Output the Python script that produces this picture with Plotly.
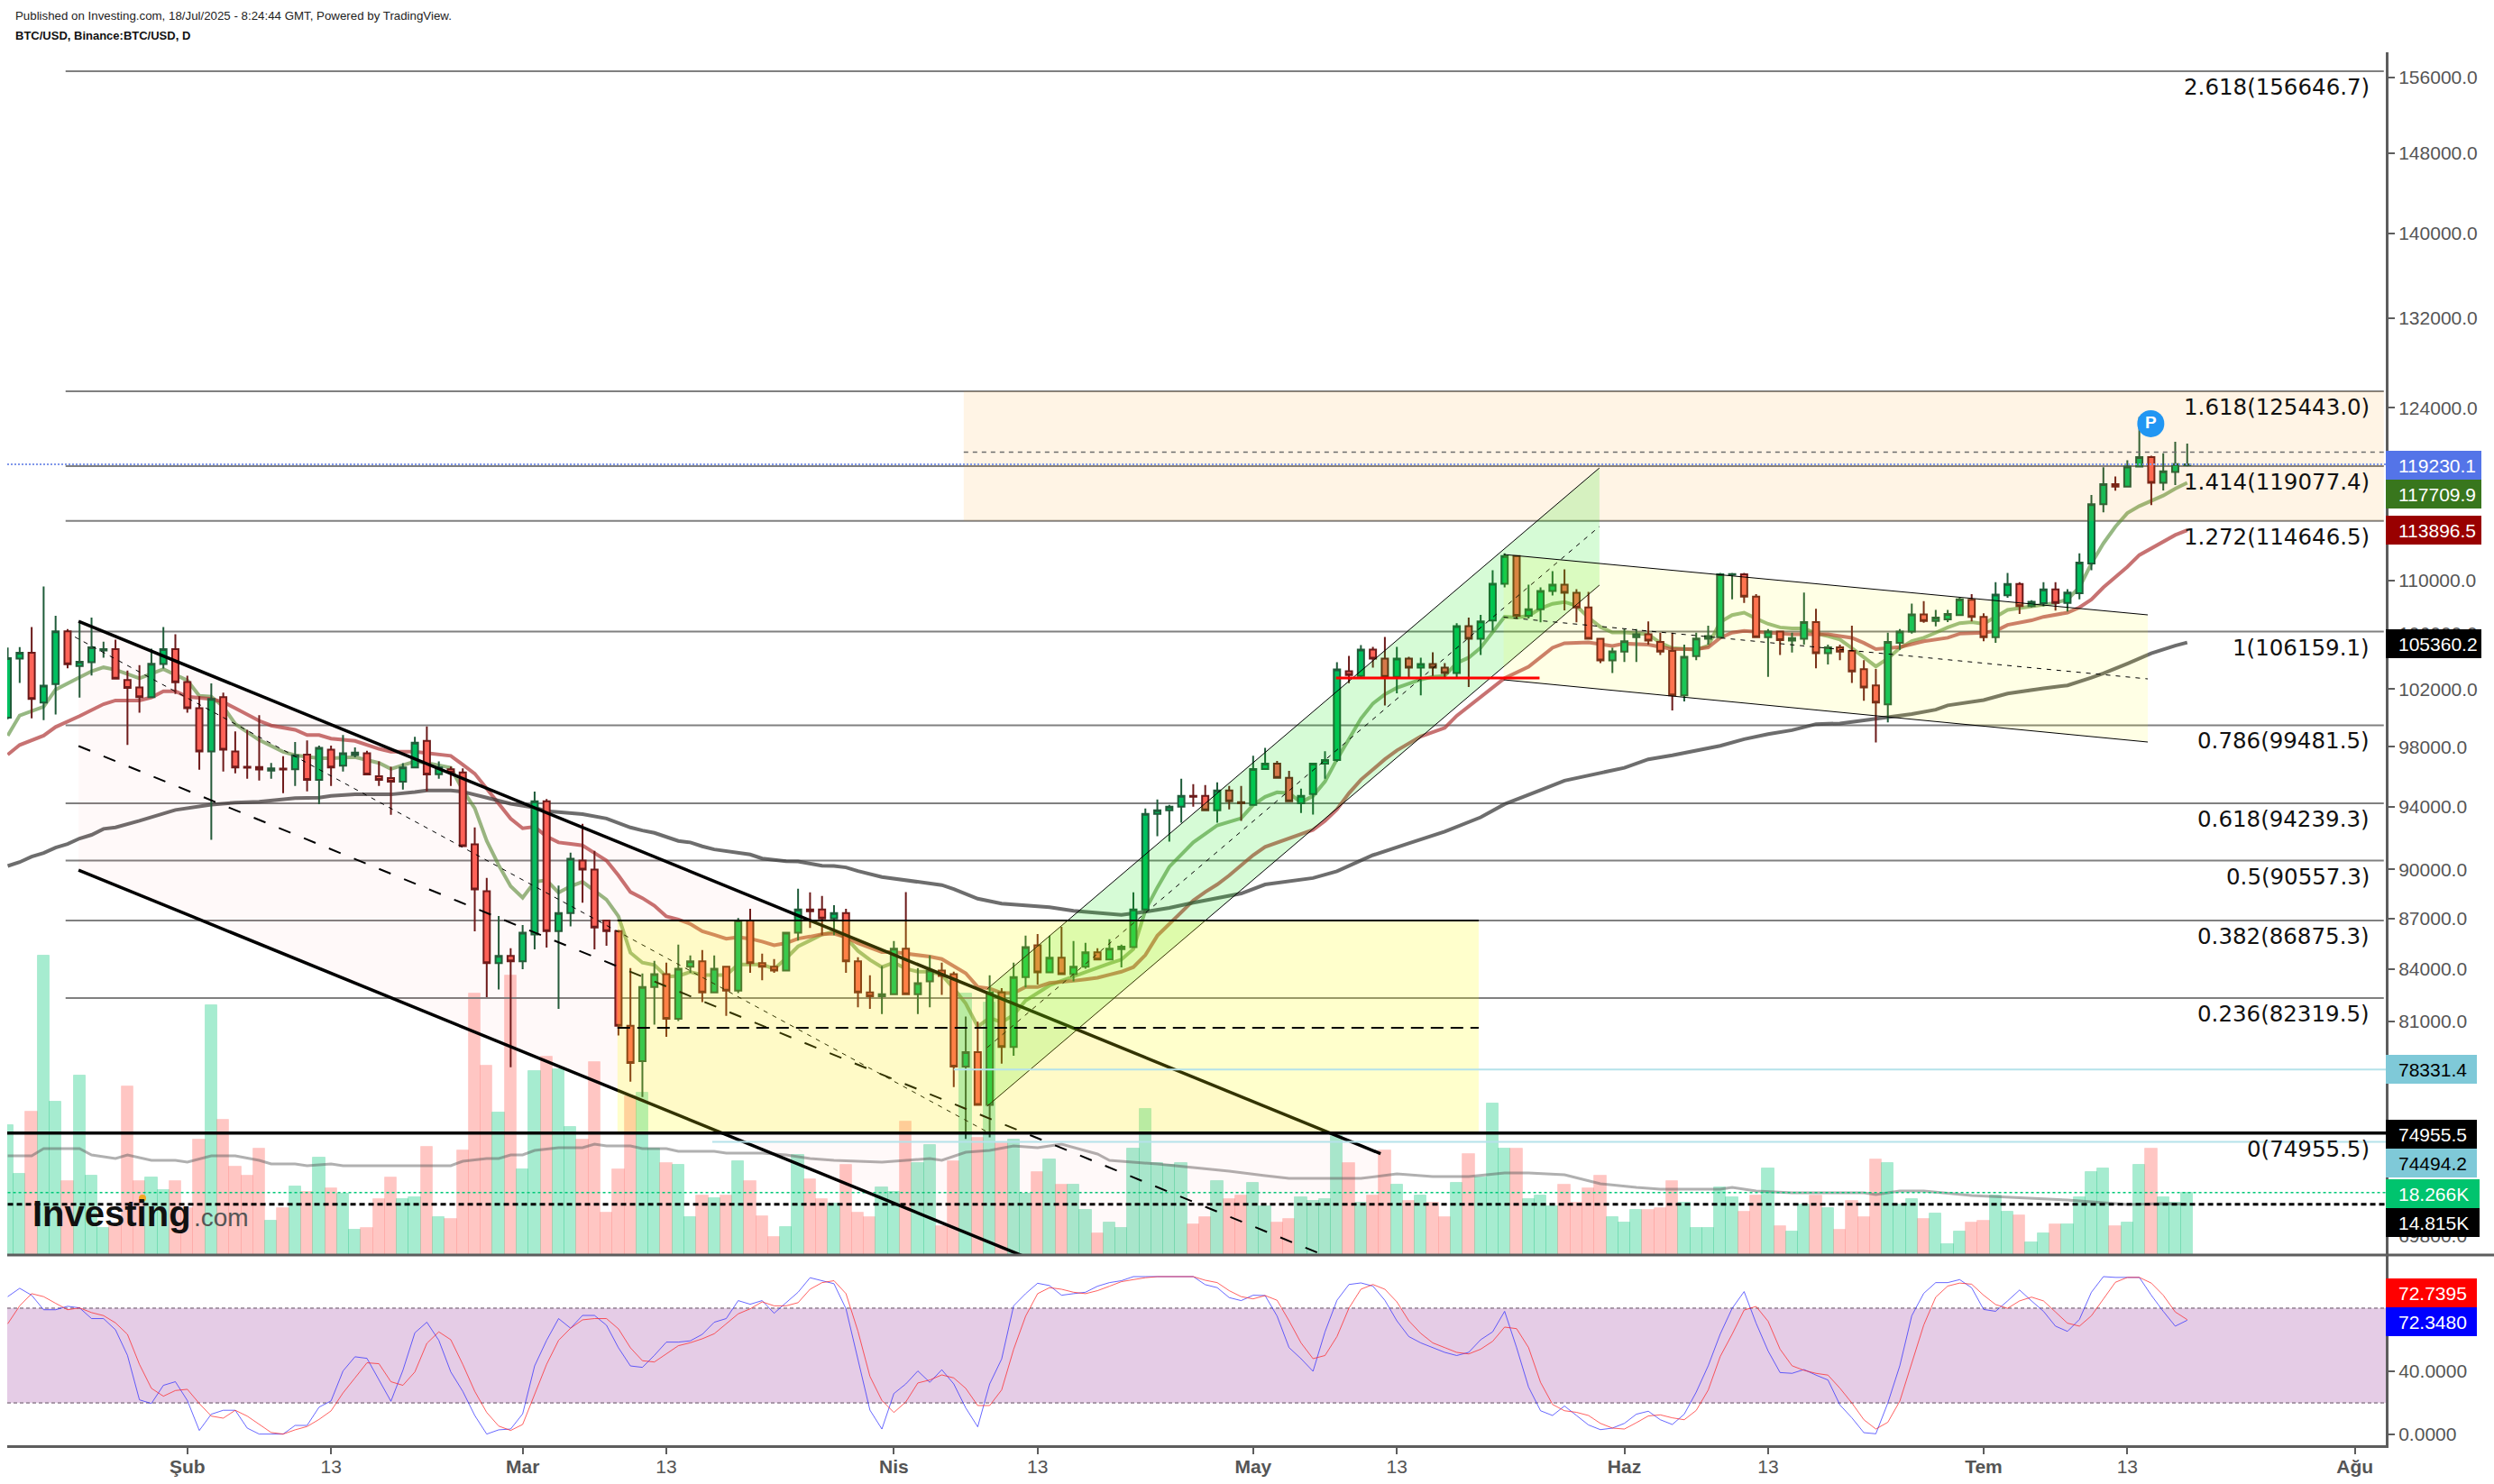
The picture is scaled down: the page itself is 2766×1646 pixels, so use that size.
import math
import pandas as pd
import plotly.graph_objects as go

W = 2766
H = 1646

# 日足 (1/17 - 7/18)
opens = [
    100006,104195,104610,101053,102362,106180,103650,103933,104784,104872,
    102646,102122,101446,103802,104872,102515,100660,97687,101446,97687,
    96650,96630,96391,96530,96491,97468,95773,97807,96730,97448,
    97568,96012,95893,95654,96610,98405,96152,96491,96272,91592,
    88660,84332,84756,84438,86027,94359,86239,87321,90557,89999,
    86875,86239,80749,78786,82954,83696,81141,84120,84438,82636,
    84120,82742,86875,84332,84120,83908,86133,87544,87544,86987,
    87321,84438,82636,82424,82530,85180,82530,83272,83908,83696,
    78490,79277,76431,82636,79572,83520,85392,83802,84650,83696,
    84120,84968,84544,85162,85286,87544,93549,93779,94009,94716,
    94716,93779,95073,94299,94124,96504,96861,95908,94239,94835,
    96861,97100,103277,102950,104849,104194,102884,104194,103539,103801,
    103539,103146,106573,105635,106987,109747,111886,107332,107815,109195,
    109678,109057,107953,105635,104063,104703,105757,105958,105406,104753,
    101566,104377,105632,105757,110440,110466,108769,105757,106159,105506,
    105632,106864,104578,105004,104753,103423,102268,100938,105331,106159,
    107438,106942,107072,107386,108534,107255,105757,108873,109735,108064,
    108273,109317,108299,109030,111301,115971,117607,117410,119049,119831,
    117723,118598,119164]
highs = [
    105000,105024,106504,109540,107332,106343,106918,107194,105417,105570,
    103322,103715,104915,106504,105963,102951,101511,102406,101751,99063,
    99162,100180,96910,97368,98325,98445,98086,98086,98803,97966,
    97727,97009,96650,96890,98684,99401,97009,96670,96551,92666,
    89478,87135,85215,86592,94996,94518,88995,91056,92896,91171,
    86900,86300,84049,83731,84473,84367,85427,84791,85109,84791,
    84150,87024,87581,84897,84579,86133,88809,88586,88362,87804,
    87581,84685,83625,84170,85639,88604,84049,84791,84367,83837,
    81272,80978,83625,82883,84367,85957,86063,85957,86486,85639,
    85533,85215,85745,85427,88586,93894,94477,94124,95848,95491,
    95431,95610,95371,95371,97398,97934,97040,96385,95192,96900,
    97696,103932,104390,105176,105045,105766,105045,104325,104260,104652,
    103866,106780,107194,107401,110782,112093,111955,109678,109471,110713,
    110851,109333,109126,105701,104980,106342,106342,106916,106084,106084,
    105205,106084,106603,110570,110570,110570,108952,106342,106211,106084,
    109082,107855,105205,105205,106603,104076,103448,106084,106342,108247,
    108430,107777,107777,108691,108952,107516,109865,110570,109865,108508,
    109865,109865,109343,112084,116733,118992,118228,119570,123224,119947,
    120150,121107,120962]
lows = [
    99900,102450,99962,99831,100224,103497,101402,102973,104260,102755,
    98126,100355,101446,103475,101664,100355,96451,91877,96331,96212,
    95853,95733,95853,94897,95375,95017,94180,95375,96331,97288,
    96132,95375,93490,95136,96610,95017,95853,95375,91477,86222,
    82371,82813,78458,83978,85144,85250,81697,86522,87953,85144,
    85356,80209,77673,76855,80814,80127,81010,83767,82090,82636,
    81305,82601,83767,83343,83767,83908,85674,86416,85992,85992,
    83767,81796,81697,81403,82530,82530,81403,81796,82495,77378,
    74646,76431,74729,78654,79081,82919,83096,83802,83696,83272,
    84014,84544,84544,84085,85286,87544,92110,91766,92974,94009,
    93721,92974,93836,93089,94124,96504,95908,94299,93606,93491,
    95848,96980,102425,102753,103539,100853,101705,102753,101574,102950,
    102753,102753,102164,104456,106225,109471,107125,107125,106849,108850,
    107746,106849,105635,103866,103146,103950,103950,105205,104452,100511,
    101139,104076,105205,105632,108560,108299,105757,102871,104452,104628,
    105205,103498,103774,104076,102444,101189,98295,99683,104829,106008,
    106812,106551,106864,107333,106916,105456,105331,108691,107464,107960,
    108038,107725,107647,108560,110779,115323,117071,117382,119049,115915,
    117099,117523,119077]
closes = [
    104217,104610,101315,102253,106180,103780,103955,105003,104872,102755,
    102100,101446,103824,104872,102493,100660,97687,101315,97807,96610,
    96590,96471,96550,96471,97428,95773,97927,96610,97568,97607,
    96132,95773,95654,96610,98285,96132,96610,96252,91477,88771,
    84332,84756,84438,86133,94359,86239,87321,90672,89999,86451,
    86239,80749,78687,82954,83696,81141,84014,84438,82636,84014,
    82742,86875,84332,84120,83908,86133,87544,87432,86987,87321,
    84438,82636,82424,82530,85180,82530,83166,83908,83590,78490,
    79277,76431,82636,79572,83520,85286,83802,84650,83696,84120,
    84968,84544,85180,85303,87544,93549,93779,94009,94716,94656,
    93779,95073,94358,94239,96504,96861,95908,94358,94716,96861,
    97100,103408,103015,104849,104194,102884,104194,103539,103801,103539,
    103146,106573,105635,106918,109747,111886,107332,107815,109195,109678,
    109057,107953,105635,104063,104718,105456,105958,105506,104703,101566,
    104327,105657,105833,110466,110492,108769,105757,106159,105531,105682,
    106864,104578,105004,104703,103272,102118,101064,105406,106159,107438,
    106942,107203,107464,108560,107255,105757,108926,109735,108064,108377,
    109317,108299,109082,111379,115971,117607,117410,119049,119831,117723,
    118654,119251,119230]

# 出来高
volumes = [
    37958,23724,41992,87515,44812,21615,52456,23197,7908,8962,
    49293,21615,22670,18979,21615,13707,33741,73017,39540,25833,
    23197,31105,10017,13707,20034,18452,28469,19506,17925,7381,
    7908,16343,22670,16343,16870,31632,11071,10544,30578,76444,
    55356,41649,81716,25042,53774,57992,54302,37431,33741,56410,
    12389,25042,46394,47448,31105,26887,26360,11071,17398,16607,
    17398,27414,21615,11335,5272,8172,29260,22142,16343,15025,
    26360,12389,11071,19770,18452,39013,26887,32159,8435,27414,
    76444,34268,73808,32686,33741,17925,24251,27942,20561,20561,
    13180,6326,9490,7908,31105,42703,26887,26360,26887,8962,
    11071,21615,16343,17398,21088,14234,9490,10544,16870,15816,
    16343,34795,26887,15289,17398,30578,20561,15816,17398,15289,
    11071,21088,29523,22670,44285,31105,31105,16343,17398,14234,
    20561,15289,19506,23197,11071,9490,13180,13180,13708,21616,
    15289,7908,7908,19858,16871,12653,17398,25307,8436,6854,
    14762,17398,13708,7381,15817,11071,27943,26888,14762,16344,
    10544,12126,3163,6854,9490,10017,17398,12653,11599,3691,
    6327,8963,8963,16871,24252,25307,8436,9490,26361,31106,
    16871,15289,18266]
vol_ma_bars = [0,2,3,6,7,9,10,12,14,15,17,19,21,22,24,25,27,28,37,38,40,41,42,43,44,46,48,49,50,52,53,55,56,59,60,63,65,67,69,71,73,75,77,78,80,82,84,86,88,91,92,96,99,102,105,107,113,116,119,122,125,127,130,133,136,138,143,144,146,149,155,156,158,160,164,169,172,175,177,180,182]
vol_ma = [28996,28996,31105,31105,29260,28205,29260,27678,27678,27151,28996,28996,27678,26624,26624,26096,26624,26096,26096,27414,28205,28205,29260,29260,30578,31368,31368,32423,31896,31896,31105,31105,30314,30314,29787,29787,29260,28205,27678,27414,27151,27678,28205,27678,30050,30578,31896,31368,32423,29523,27678,26624,25569,24515,23197,22406,22406,23724,22933,22933,23988,23988,23460,20824,19770,19243,19243,19770,18716,18188,18188,17661,18716,18716,17398,16607,16080,15289,14762,15025,14815]

# 移動平均 (読み取った足番号と値)
ema_fast_bars = [0,1,3,4,6,7,8,9,11,13,15,16,17,18,19,21,23,24,26,27,29,31,32,34,35,37,38,39,40,41,42,43,44,45,46,47,48,49,50,51,52,53,54,55,56,57,58,60,61,63,64,65,66,67,68,69,70,71,72,73,74,75,76,77,78,79,80,81,82,83,84,85,86,87,88,89,90,91,92,93,94,95,96,97,99,101,103,104,105,106,107,108,109,110,111,112,113,114,115,116,117,118,119,120,121,122,123,124,125,126,127,128,129,130,131,132,133,134,135,137,138,139,141,142,143,144,145,146,147,148,149,150,151,152,153,154,155,156,157,158,159,160,161,162,163,164,165,166,167,168,169,170,171,172,173,174,175,176,177,178,179,180,181,182]
ema_fast = [98764,100158,100770,101970,102842,103279,103562,103388,102777,103431,102624,101533,101468,100770,99569,98465,97667,97428,97228,97228,97308,96910,96511,97009,96910,96591,95096,93913,91803,90270,88958,88251,89236,89329,88567,88958,89236,88660,88139,87117,84950,84367,84226,83555,83590,83820,83643,83643,84261,84261,83996,84615,85321,85674,86027,86204,85850,85056,84526,84102,84367,84014,83837,83837,83661,82866,82008,80700,81190,80945,81354,82172,82601,83042,83308,83572,83837,84067,84314,84544,85162,87488,88883,90167,91707,92801,93261,94124,94656,94954,94895,94299,94716,95670,97160,98527,99940,100990,101640,102100,102425,102688,102884,102950,103866,104260,104980,106095,107263,107194,107332,107884,108229,108367,108091,107194,106504,106095,106095,105958,105331,104954,104829,105130,106864,107386,107568,107125,106733,106472,106394,106394,106034,105833,105582,104954,104276,103624,104201,104954,105456,105707,106084,106472,106785,106864,106733,107255,107777,107908,108038,108169,108299,108560,109474,111301,112866,114176,115266,115830,116253,116677,117241,117710]
ema_mid_bars = [0,1,3,4,6,8,9,11,12,13,14,15,17,18,19,21,22,24,25,26,27,29,31,32,34,36,37,38,39,40,41,42,43,44,45,46,47,48,49,50,51,52,53,54,55,56,57,58,59,60,61,62,63,64,65,66,67,68,69,70,71,73,74,75,76,77,78,79,80,81,82,83,84,85,86,87,88,89,90,91,92,93,94,95,96,97,98,99,100,101,102,103,104,105,106,108,109,110,111,112,113,115,116,118,120,121,123,125,127,129,130,132,134,135,137,139,141,142,143,144,145,149,152,154,155,156,158,160,162,163,165,166,167,169,170,172,173,174,175,176,177,178,179,180,181,182]
ema_mid = [97468,98126,98764,99362,100115,100944,101206,101206,101424,101860,101860,101468,101315,101097,100660,99787,99461,99162,98803,98803,98564,98405,97867,97667,97667,97468,97388,96790,96192,95196,94200,93237,92608,92704,92089,91708,91612,91516,91036,90557,89627,88604,88232,87767,87116,86931,86663,86222,86010,85780,85869,85780,85604,85392,85515,85780,85904,86045,86080,85869,85515,84986,84985,84897,84809,84720,84579,84191,83749,82954,82866,82601,82601,82954,82954,83184,83220,83308,83396,83484,83661,83837,84102,84809,85957,86663,87432,88083,88604,89069,89627,90278,90902,91420,91707,92225,92513,93088,93836,94895,95789,97160,97756,98709,99300,100136,101444,102785,103604,104980,105308,105373,105111,105280,105205,104879,104879,105004,105707,106084,106211,105958,105958,105707,105331,104879,105029,105456,105707,106008,106084,106211,106655,106994,107255,107568,107960,108560,109474,110257,111040,111953,112475,112997,113524,113897]
ema_slow_bars = [0,1,2,3,4,5,6,7,8,9,11,13,14,17,19,21,23,24,26,27,29,32,34,35,37,38,40,42,44,45,46,48,50,51,52,53,54,56,57,58,59,62,63,65,66,68,69,70,71,73,75,78,79,80,81,83,85,87,89,91,93,95,97,99,101,103,105,106,109,111,114,117,120,123,125,128,130,135,137,139,141,143,145,147,149,151,153,156,159,161,162,165,167,170,172,174,175,177,179,181,182]
ema_slow = [90222,90464,90807,91037,91383,91613,91959,92189,92573,92669,93095,93548,93798,94143,94279,94339,94478,94578,94598,94717,94817,94817,94977,95076,95076,94996,94598,94200,93951,93721,93662,93529,93242,92954,92666,92474,92321,91805,91708,91458,91266,90941,90691,90520,90501,90241,90222,90129,89906,89534,89311,89032,88790,88511,88195,87897,87767,87674,87451,87339,87209,87395,87637,87953,88232,88511,89069,89162,89469,89888,90902,91650,92398,93319,94180,95103,95729,96585,97155,97429,97725,98067,98523,98865,99139,99557,99607,99933,100259,100560,100861,101238,101690,102067,102268,102820,103122,103825,104578,105130,105360]

# ストキャスティクスRSI
stoch_k = [
    87.3,92.6,88.2,79,79,81.2,80.2,73.4,73.4,66.3,50.1,21.9,19.6,31.1,33.4,21.5,2.5,12.8,15.3,15.3,
    4,0.2,0.2,0.2,5.7,5.7,17.3,21.2,40.2,49.2,48.2,34.9,21,40.6,64.4,71.1,59.6,39.6,27.3,12,
    0.2,2.9,3.4,13,43.4,59.6,73.4,67.3,75.4,75.4,69.2,54.9,43.4,42.5,50.1,58.5,58.5,59.3,63.4,71.1,
    73.4,84.8,82.5,84.8,76.8,83.5,90.1,99.3,97.4,95.5,79.6,48.2,15.4,3.4,25.9,32,40.2,33,41,32,
    16.8,4.8,32,47.8,81.5,89.2,95.8,94.3,88.2,89.2,90.1,93.9,96.2,97.4,100,100,100,100,100,100,
    94.9,93,86.7,84.8,88.2,
    88,75,55,48,40,65,85,95,96,94,85,72,62,58,55,52,50,52,60,65,78,55,30,15,12,18,12,6,3,4,
    7,12.8,14.7,9.3,6.3,12.8,26.8,43.5,63.5,79.9,90.5,70.5,52.9,39.2,38.7,41.1,37.6,34.5,18.7,10.5,
    1.1,0.4,19.9,43.5,75.2,89.4,96.2,96.2,98.1,92.9,79.2,78,84.6,91.5,84.6,78,68.6,65.3,72.9,90.1,
    100,99.5,99.5,99.5,88.2,78,68.6,72.348]
stoch_d = [
    70.1,81.5,89.2,87.3,83.1,79,80.2,77.2,75.3,70.7,63.4,44.4,29.2,24.2,27.8,28.6,19.6,11.6,10.3,15.3,
    11.6,6.3,1.2,0.2,2.9,5,9.5,14.9,26.3,35.8,45.4,44.8,33.4,31.1,39.6,57.7,65,60,44.4,27.3,
    13.9,5.3,2.5,6.3,25.3,44.4,59.6,67.3,72.6,73.4,73.4,66.9,54.9,46.7,45.9,51.1,56.2,58.1,60.6,63.8,
    70.1,76.4,79.6,84,81.5,81.5,83.5,92,96.2,97.4,89.2,65.4,36.8,21.5,13.9,20.6,32.6,34.5,37.7,35.8,
    29.2,18.3,18.3,28.2,53.9,74.9,89.2,93,92,90.1,89.2,91.1,93.9,96.8,98.1,99.3,100,100,100,100,
    97.7,96.2,91.1,87.3,85.9,
    88,85,72,58,48,50,62,80,92,95,92,84,72,64,58,55,52,51,54,59,68,67,55,33,19,15,14,12,7,4,
    3.4,7.4,11.7,12.4,10.5,9.3,15.2,28.1,49.3,63.5,78.8,81.1,71.7,54,43.5,40.6,38.7,37.6,29.3,19.9,
    9.3,3.4,7.7,21.1,45.8,69.3,87,94,95.9,95.2,88.2,82.3,79.9,84.6,87,84.6,77.6,70.5,68.6,75.2,
    85.8,96.4,99.5,99.5,95.9,88.2,77.6,72.74]

# フィボナッチ
fib_ratios = ["2.618","1.618","1.414","1.272","1","0.786","0.618","0.5","0.382","0.236","0"]
fib_prices = [156646.7,125443.0,119077.4,114646.5,106159.1,99481.5,94239.3,90557.3,86875.3,82319.5,74955.5]

# 軸ラベル
price_ticks = [156000,148000,140000,132000,124000,110000,106000,102000,98000,94000,90000,87000,84000,81000,72000,69800]
stoch_ticks = [0,40]
month_ticks = ["2025-02-01","2025-02-13","2025-03-01","2025-03-13","2025-04-01","2025-04-13","2025-05-01","2025-05-13","2025-06-01","2025-06-13","2025-07-01","2025-07-13","2025-08-01"]
month_labels = ["<b>Şub</b>","13","<b>Mar</b>","13","<b>Nis</b>","13","<b>May</b>","13","<b>Haz</b>","13","<b>Tem</b>","13","<b>Ağu</b>"]

# 右端のタグ
tag_texts = ["119230.1","117709.9","113896.5","105360.2","78331.4","74955.5","74494.2","18.266K","14.815K","72.7395","72.3480"]
tag_tops = [500,532,572,698,1170,1242,1274,1308,1340,1418,1450]
tag_ends = [2752,2752,2752,2752,2747,2747,2747,2750,2750,2747,2747]
tag_fills = ["#5474e8","#38761d","#990000","#000000","#7fc9d8","#000000","#7fc9d8","#00c46e","#000000","#ff0000","#0000ff"]
tag_inks = ["white","white","white","white","black","white","black","white","white","white","white"]

X_LEFT = "2025-01-16 23:00"
X_RIGHT = "2025-08-03 14:00"
PRICE_TOP = 158719
PRICE_BOTTOM = 68868
VOL_TOP = 351642
STOCH_RANGE = [-6.86, 113.7]
GREY = "#5d5d5d"

# 描画ツール (日付と価格)
pink_top = (106918, 73884)
pink_bottom = (89965, 62180)
pink_mid = (98054, 67756)
pink_x = ("2025-01-22 22:00", "2025-05-11 15:30")
pink_thin_x = ("2025-01-22 14:40", "2025-04-08 16:00")
pink_thin = (105766, 75055)
yellow_x = ("2025-03-08 22:00", "2025-05-19 20:00")
yellow_mid = 80640
orange_x = ("2025-04-06 20:00", "2025-08-03 10:00")
orange_dash = 120240
green_x = ("2025-04-08 19:00", "2025-05-29 22:00")
green_top = (82835, 118936)
green_bottom = (76364, 109643)
green_mid = (79533, 114197)
pale_x = ("2025-05-21 22:00", "2025-07-14 17:00")
pale_top = (112002, 107401)
pale_bottom = (102669, 98328)
pale_mid = (107233, 102732)
red_x = ("2025-05-07 22:00", "2025-05-24 22:00")
red_level = 102797
fib_x = ("2025-01-21 20:00", "2025-08-03 10:00")
last_price = 119230.1
blue_levels = [78331.4, 74494.2]
blue_starts = ["2025-04-06 00:00", "2025-03-16 20:00"]
vol_last = 18266
vol_ma_last = 14815
p_mark = ("2025-07-14 23:00", 122647)

dates = pd.date_range("2025-01-17", periods=len(opens))


def line(x, y, color, width, axis="y4", dash="solid"):
    return go.Scatter(x=list(x), y=list(y), mode="lines", yaxis=axis, hoverinfo="skip",
                      line=dict(color=color, width=width, dash=dash), showlegend=False)


def band(x, top, bottom, color):
    xs = [x[0], x[1], x[1], x[0], x[0]]
    ys = [top[0], top[1], bottom[1], bottom[0], top[0]]
    return go.Scatter(x=xs, y=ys, mode="none", fill="toself", fillcolor=color, yaxis="y4",
                      hoverinfo="skip", showlegend=False)


fig = go.Figure()

# 出来高
up = [c >= o for o, c in zip(opens, closes)]
fig.add_trace(go.Bar(
    x=dates, y=volumes, yaxis="y", showlegend=False, hoverinfo="skip",
    marker=dict(color=["rgba(0,200,120,0.35)" if u else "rgba(255,82,72,0.33)" for u in up],
                line=dict(color=["rgba(0,190,110,0.18)" if u else "rgba(255,82,72,0.12)" for u in up], width=1))))
fig.add_trace(line([dates[i] for i in vol_ma_bars], vol_ma, "rgba(90,90,90,0.48)", 3, "y"))
fig.add_trace(line([dates[0], X_RIGHT], [vol_last, vol_last], "#00c878", 1.5, "y", "dot"))
fig.add_trace(line([dates[0], X_RIGHT], [vol_ma_last, vol_ma_last], "black", 3, "y", "6px,4px"))

# フィボナッチ水平線と移動平均
for p in fib_prices[:-1]:
    fig.add_trace(line(fib_x, [p, p], "#808080", 2, "y2"))
fig.add_trace(line([dates[i] for i in ema_fast_bars], ema_fast, "rgba(85,140,55,0.62)", 4, "y2"))
fig.add_trace(line([dates[i] for i in ema_mid_bars], ema_mid, "rgba(178,60,60,0.72)", 4, "y2"))
fig.add_trace(line([dates[i] for i in ema_slow_bars], ema_slow, "rgba(60,60,60,0.75)", 4, "y2"))

# ローソク足
fig.add_trace(go.Candlestick(
    x=dates, open=opens, high=highs, low=lows, close=closes, yaxis="y4", showlegend=False,
    whiskerwidth=0, hoverinfo="skip",
    increasing=dict(fillcolor="#00c060", line=dict(color="#1f5c3a", width=2)),
    decreasing=dict(fillcolor="#ff6459", line=dict(color="#6b1a1a", width=2))))

# 描画ツール
fig.add_trace(band(pink_x, pink_top, pink_bottom, "rgba(244,67,54,0.03)"))
fig.add_trace(line(pink_x, pink_top, "black", 3.5))
fig.add_trace(line(pink_x, pink_bottom, "black", 3.5))
fig.add_trace(line(pink_x, pink_mid, "black", 2, dash="14px,16px"))
fig.add_trace(line(pink_thin_x, pink_thin, "black", 1, dash="5px,6px"))

fig.add_trace(band(orange_x, (fib_prices[1], fib_prices[1]), (fib_prices[3], fib_prices[3]), "rgba(255,152,0,0.1)"))
fig.add_trace(line(orange_x, (orange_dash, orange_dash), "#6d6d6d", 1.5, dash="5px,5px"))

fig.add_trace(band(green_x, green_top, green_bottom, "rgba(0,230,0,0.16)"))
fig.add_trace(line(green_x, green_top, "black", 1))
fig.add_trace(line(green_x, green_bottom, "black", 1))
fig.add_trace(line(green_x, green_mid, "black", 1, dash="5px,6px"))

fig.add_trace(band(pale_x, pale_top, pale_bottom, "rgba(255,255,0,0.1)"))
fig.add_trace(line(pale_x, pale_top, "black", 1))
fig.add_trace(line(pale_x, pale_bottom, "black", 1))
fig.add_trace(line(pale_x, pale_mid, "black", 1, dash="5px,6px"))

fig.add_trace(band(yellow_x, (fib_prices[8], fib_prices[8]), (fib_prices[10], fib_prices[10]), "rgba(255,255,0,0.2)"))
fig.add_trace(line(yellow_x, (fib_prices[8], fib_prices[8]), "black", 2))
fig.add_trace(line(yellow_x, (yellow_mid, yellow_mid), "black", 2, dash="14px,8px"))
fig.add_trace(line(red_x, (red_level, red_level), "#ff0000", 3))
fig.add_trace(line([X_LEFT, X_RIGHT], (fib_prices[10], fib_prices[10]), "black", 3.5))
fig.add_trace(line([X_LEFT, X_RIGHT], (last_price, last_price), "#7f97ea", 2, dash="2px,2px"))
for p, s in zip(blue_levels, blue_starts):
    fig.add_trace(line([s, X_RIGHT], (p, p), "#b5e2ea", 2))

fig.add_trace(go.Scatter(
    x=[p_mark[0]], y=[p_mark[1]], mode="markers+text", text=["<b>P</b>"], textposition="middle center",
    textfont=dict(color="white", size=19, family="Liberation Sans"), yaxis="y4", hoverinfo="skip",
    marker=dict(size=30, color="#2196f3"), showlegend=False))

# ストキャスティクスRSI
fig.add_trace(go.Scatter(x=dates[:len(stoch_k)], y=stoch_k, mode="lines", yaxis="y3", showlegend=False, hoverinfo="skip",
                         line=dict(color="rgba(40,40,255,0.7)", width=1)))
fig.add_trace(go.Scatter(x=dates[:len(stoch_d)], y=stoch_d, mode="lines", yaxis="y3", showlegend=False, hoverinfo="skip",
                         line=dict(color="rgba(255,30,30,0.7)", width=1)))

shapes = [
    dict(type="rect", xref="x", yref="y3", x0=X_LEFT, x1=X_RIGHT, y0=20, y1=80, layer="below",
         fillcolor="#e5cce6", line=dict(width=0)),
    dict(type="line", xref="x", yref="y3", x0=X_LEFT, x1=X_RIGHT, y0=80, y1=80, layer="below",
         line=dict(color="#a898a8", width=2, dash="4px,3px")),
    dict(type="line", xref="x", yref="y3", x0=X_LEFT, x1=X_RIGHT, y0=20, y1=20, layer="below",
         line=dict(color="#a898a8", width=2, dash="4px,3px")),
    dict(type="line", xref="paper", yref="paper", x0=8 / W, x1=1, y0=1 - 1392 / H, y1=1 - 1392 / H,
         line=dict(color=GREY, width=3)),
    dict(type="circle", xref="paper", yref="paper", x0=154 / W, x1=162 / W, y0=1 - 1333 / H, y1=1 - 1325 / H,
         fillcolor="#f5a623", line=dict(width=0)),
]
for top, end, fill in zip(tag_tops, tag_ends, tag_fills):
    shapes.append(dict(type="rect", xref="paper", yref="paper", x0=2646 / W, x1=end / W,
                       y0=1 - top / H, y1=1 - (top + 32) / H, fillcolor=fill, line=dict(width=0), layer="above"))

annotations = []
for ratio, p in zip(fib_ratios, fib_prices):
    annotations.append(dict(text=f"{ratio}({p:.1f})", xref="paper", yref="y2", x=2630 / W, y=math.log10(p),
                            xanchor="right", yanchor="top", yshift=-1, showarrow=False,
                            font=dict(family="DejaVu Sans", size=24.5, color="#111111")))
for text, top, ink in zip(tag_texts, tag_tops, tag_inks):
    annotations.append(dict(text=text, xref="paper", yref="paper", x=2658 / W, y=1 - (top + 16) / H,
                            xanchor="left", yanchor="middle", showarrow=False,
                            font=dict(family="Liberation Sans", size=21, color=ink)))
annotations.append(dict(text="Published on Investing.com, 18/Jul/2025 - 8:24:44 GMT, Powered by TradingView.",
                        xref="paper", yref="paper", x=15 / W, y=1 - 17 / H, xanchor="left", yanchor="middle",
                        showarrow=False, font=dict(family="Liberation Sans", size=13.3, color="#222222")))
annotations.append(dict(text="<b>BTC/USD, Binance:BTC/USD, D</b>", xref="paper", yref="paper", x=15 / W, y=1 - 40 / H,
                        xanchor="left", yanchor="middle", showarrow=False,
                        font=dict(family="Liberation Sans", size=13, color="#111111")))
annotations.append(dict(text="<b>Investing</b>", xref="paper", yref="paper", x=34 / W, y=1 - 1346 / H,
                        xanchor="left", yanchor="middle", showarrow=False,
                        font=dict(family="Liberation Sans", size=40, color="#111111")))
annotations.append(dict(text=".com", xref="paper", yref="paper", x=213 / W, y=1 - 1350 / H,
                        xanchor="left", yanchor="middle", showarrow=False,
                        font=dict(family="Liberation Sans", size=28, color="#555555")))

axis_font = dict(family="Liberation Sans", size=21, color="#555555")
x_domain = [8 / W, 2646 / W]
price_domain = [1 - 1392 / H, 1 - 58 / H]
stoch_domain = [1 - 1603 / H, 1 - 1392 / H]

fig.update_layout(
    width=W, height=H, margin=dict(l=0, r=0, t=0, b=0, autoexpand=False),
    paper_bgcolor="white", plot_bgcolor="white", showlegend=False,
    bargap=0, boxgap=0.25, boxmode="overlay", shapes=shapes, annotations=annotations,
    xaxis=dict(type="date", domain=x_domain, anchor="y3", range=[X_LEFT, X_RIGHT], showgrid=False,
               rangeslider=dict(visible=False), tickmode="array", tickvals=month_ticks, ticktext=month_labels,
               ticks="outside", ticklen=7, tickwidth=2, tickcolor=GREY, tickfont=axis_font,
               ticklabelstandoff=-4, showline=True, linecolor=GREY, linewidth=3, zeroline=False),
    yaxis=dict(domain=price_domain, anchor="x", range=[0, VOL_TOP], visible=False, showgrid=False),
    yaxis2=dict(domain=price_domain, anchor="x", overlaying="y", side="right", type="log",
                range=[math.log10(PRICE_BOTTOM), math.log10(PRICE_TOP)], showgrid=False, zeroline=False,
                tickmode="array", tickvals=price_ticks, ticktext=[f"{t:.1f}" for t in price_ticks],
                ticks="outside", ticklen=7, tickwidth=2, tickcolor=GREY, tickfont=axis_font,
                showline=True, linecolor=GREY, linewidth=3),
    yaxis3=dict(domain=stoch_domain, anchor="x", side="right", range=STOCH_RANGE, showgrid=False, zeroline=False,
                tickmode="array", tickvals=stoch_ticks, ticktext=[f"{t:.4f}" for t in stoch_ticks],
                ticks="outside", ticklen=7, tickwidth=2, tickcolor=GREY, tickfont=axis_font,
                showline=True, linecolor=GREY, linewidth=3),
    yaxis4=dict(domain=price_domain, anchor="x", overlaying="y", side="right", type="log",
                range=[math.log10(PRICE_BOTTOM), math.log10(PRICE_TOP)], visible=False, showgrid=False),
)

fig.write_html("out.html", config=dict(displayModeBar=False), post_script="document.body.style.margin='0';")
